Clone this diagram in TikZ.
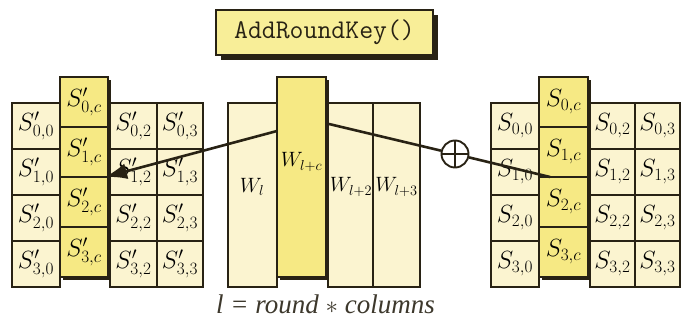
\documentclass[tikz,border=0pt]{standalone}
\usepackage{fontspec}
\newfontfamily\timesit{Liberation Serif}
\usetikzlibrary{arrows.meta,shadows}
\definecolor{palec}{RGB}{251,244,208}
\definecolor{yelc}{RGB}{246,233,132}
\definecolor{titlec}{RGB}{248,238,152}
\definecolor{edgec}{RGB}{40,34,20}
\begin{document}
\begin{tikzpicture}[x=1pt,y=-1pt,
  cellbase/.style={draw=edgec, line width=1.6pt, inner sep=0pt, font=\fontsize{23}{26}\selectfont},
  palecell/.style={cellbase, fill=palec, minimum height=46pt},
  hlcell/.style={cellbase, fill=yelc, minimum height=50pt, line width=1.7pt,
     drop shadow={shadow xshift=3pt, shadow yshift=-3pt, fill=edgec, opacity=1}},
  palecol/.style={draw=edgec, line width=1.6pt, fill=palec, inner sep=0pt, minimum height=184pt},
  hlcol/.style={draw=edgec, line width=1.7pt, fill=yelc, inner sep=0pt, minimum height=200pt, minimum width=49pt,
     drop shadow={shadow xshift=3pt, shadow yshift=-3pt, fill=edgec, opacity=1}},
  lbl/.style={inner sep=0pt, font=\fontsize{22}{25}\selectfont},
  conn/.style={draw=edgec, line width=2.6pt},
  titlebox/.style={draw=edgec, line width=1.6pt, fill=titlec, minimum width=217pt, minimum height=45pt, inner sep=0pt,
     font=\fontsize{27}{30}\ttfamily, text=edgec,
     drop shadow={shadow xshift=5pt, shadow yshift=-5pt, fill=edgec, opacity=1}}
]
\useasboundingbox (0,0) rectangle (681,320);
\fill[white] (0,0) rectangle (681,320);

% title
\node[titlebox] (title) at (324.5,32.5) {AddRoundKey()};

% ---- left matrix (output state) ----
\foreach \r in {0,...,3} {
  \node[palecell, minimum width=48pt] (L\r0) at (36,{126+46*\r}) {$S'_{\r,0}$};
  \node[palecell, minimum width=47pt] (L\r2) at (133.5,{126+46*\r}) {$S'_{\r,2}$};
  \node[palecell, minimum width=46pt] (L\r3) at (180,{126+46*\r}) {$S'_{\r,3}$};
}
\foreach \r in {0,...,3} {
  \node[hlcell, minimum width=48pt] (Lc\r) at (84,{102+50*\r}) {$S'_{\r,c}$};
}

% ---- right matrix (input state) ----
\foreach \r in {0,...,3} {
  \node[palecell, minimum width=48pt] (R\r0) at (515,{126+46*\r}) {$S_{\r,0}$};
  \node[palecell, minimum width=45pt] (R\r2) at (612.5,{126+46*\r}) {$S_{\r,2}$};
  \node[palecell, minimum width=45pt] (R\r3) at (657.5,{126+46*\r}) {$S_{\r,3}$};
}
\foreach \r in {0,...,3} {
  \node[hlcell, minimum width=49pt] (Rc\r) at (563.5,{102+50*\r}) {$S_{\r,c}$};
}

% ---- key schedule words ----
\node[palecol, minimum width=49pt] (W0) at (252.5,195) {};
\node[palecol, minimum width=45pt] (W2) at (350.5,195) {};
\node[palecol, minimum width=47pt] (W3) at (396.5,195) {};
\node[lbl] (wl) at (252,187) {$W_l$};
\node[lbl] (wl2) at (351,187) {$W_{l+2}$};
\node[lbl] (wl3) at (396.5,187) {$W_{l+3}$};
\node[hlcol] (Wc) at (301.5,177) {};
\node[lbl] (wlc) at (301.5,162) {$W_{l+c}$};

% ---- XOR and connectors ----
\node[circle, draw=edgec, line width=1.9pt, minimum size=27pt, inner sep=0pt] (xor) at (455,154) {};
\draw[edgec, line width=1.6pt] (xor.north) -- (xor.south) (xor.west) -- (xor.east);

\coordinate (wcR) at (329,124);
\coordinate (wcL) at (277,131);
\coordinate (sIn) at (550,177);
\coordinate (sOut) at (105,177);

\draw[conn] (wcR) -- (xor);
\draw[conn] (xor) -- (sIn);
\draw[conn, -{Latex[length=22pt,width=16pt]}] (wcL) -- (sOut);

% ---- caption ----
\node[anchor=base, inner sep=0pt, font=\fontsize{27}{30}\timesit\itshape, text=edgec!90] (cap) at (325.5,314) {l = round $\ast$ columns};
\end{tikzpicture}
\end{document}
